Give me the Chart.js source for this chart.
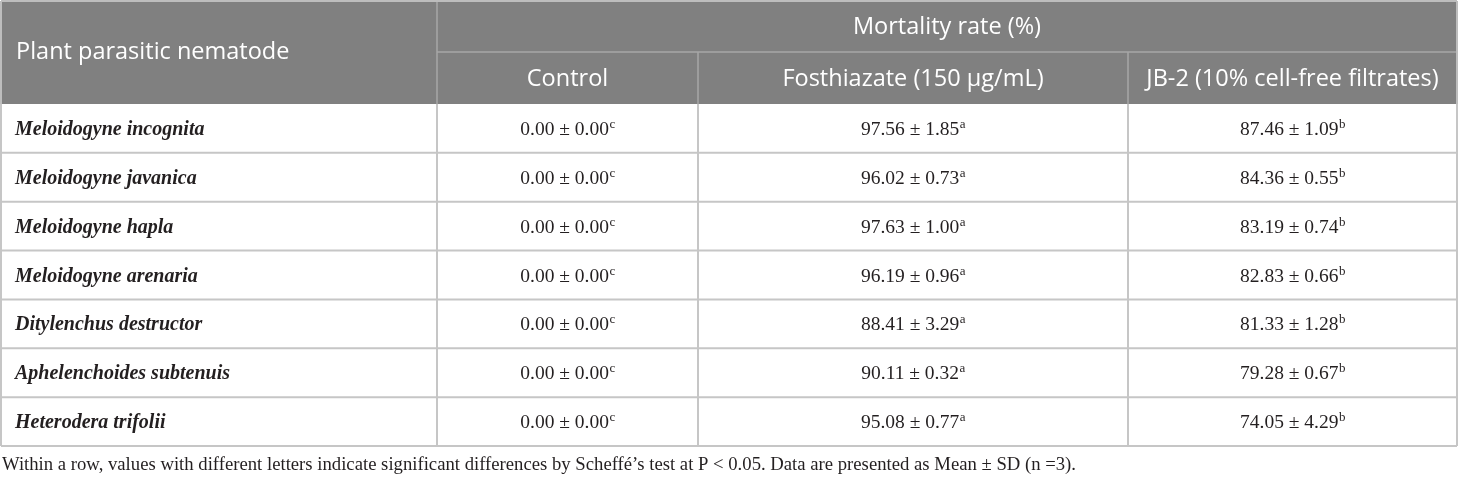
<!DOCTYPE html>
<html>
<head>
<meta charset="utf-8">
<script src="https://cdn.jsdelivr.net/npm/chart.js@4"></script>
<style>
  html, body { margin: 0; padding: 0; background: #fff; }
  #wrap { position: relative; width: 1460px; height: 477px; }
</style>
</head>
<body>
<div id="wrap"><canvas id="myChart"></canvas></div>
<script>
// table data
const nematodes = [
    'Meloidogyne incognita',
    'Meloidogyne javanica',
    'Meloidogyne hapla',
    'Meloidogyne arenaria',
    'Ditylenchus destructor',
    'Aphelenchoides subtenuis',
    'Heterodera trifolii'
];
const controlMean = [0, 0, 0, 0, 0, 0, 0];
const controlSd = [0, 0, 0, 0, 0, 0, 0];
const controlLetter = ['c', 'c', 'c', 'c', 'c', 'c', 'c'];
const fosthMean = [97.56, 96.02, 97.63, 96.19, 88.41, 90.11, 95.08];
const fosthSd = [1.85, 0.73, 1.00, 0.96, 3.29, 0.32, 0.77];
const fosthLetter = ['a', 'a', 'a', 'a', 'a', 'a', 'a'];
const jbMean = [87.46, 84.36, 83.19, 82.83, 81.33, 79.28, 74.05];
const jbSd = [1.09, 0.55, 0.74, 0.66, 1.28, 0.67, 4.29];
const jbLetter = ['b', 'b', 'b', 'b', 'b', 'b', 'b'];

const firstHeader = 'Plant parasitic nematode';
const groupHeader = 'Mortality rate (%)';
const columnHeaders = ['Control', 'Fosthiazate (150 \u03bcg/mL)', 'JB-2 (10% cell-free filtrates)'];
const footnote = 'Within a row, values with different letters indicate significant differences by Scheff\u00e9\u2019s test at P < 0.05. Data are presented as Mean \u00b1 SD (n =3).';

// layout (pixel units of the hidden scales)
var colEdges = [1, 437, 698, 1128, 1457];
var headTop = 1, headMid = 52, headBottom = 104, bodyBottom = 446;
var rowH = (bodyBottom - headBottom) / nematodes.length;
var rowCenter = function (i) { return headBottom + rowH * (i + 0.5); };
var colCenter = function (k) { return (colEdges[k] + colEdges[k + 1]) / 2; };

var headFont = '"Open Sans", sans-serif';
var bodyFont = '"Liberation Serif", "Times New Roman", serif';

function cellPoints(means, sds, letters, col) {
    return means.map(function (m, i) {
        return { x: colCenter(col), y: rowCenter(i), text: m.toFixed(2) + ' \u00b1 ' + sds[i].toFixed(2), sup: letters[i] };
    });
}

const data = {
    datasets: [
        { label: 'name', data: nematodes.map(function (n, i) { return { x: colEdges[0] + 14, y: rowCenter(i), text: n }; }) },
        { label: columnHeaders[0], data: cellPoints(controlMean, controlSd, controlLetter, 1) },
        { label: columnHeaders[1], data: cellPoints(fosthMean, fosthSd, fosthLetter, 2) },
        { label: columnHeaders[2], data: cellPoints(jbMean, jbSd, jbLetter, 3) }
    ]
};

var tablePlugin = {
    id: 'tableDraw',
    beforeDatasetsDraw: function (chart) {
        var ctx = chart.ctx, xs = chart.scales.x, ys = chart.scales.y;
        var X = function (v) { return xs.getPixelForValue(v); };
        var Y = function (v) { return ys.getPixelForValue(v); };
        ctx.save();
        // header background
        ctx.fillStyle = '#808080';
        ctx.fillRect(X(colEdges[0]), Y(headTop), X(colEdges[4]) - X(colEdges[0]), Y(headBottom) - Y(headTop));
        // header inner lines
        ctx.strokeStyle = '#a6a6a6';
        ctx.lineWidth = 1.5;
        ctx.beginPath();
        ctx.moveTo(X(colEdges[1]), Y(headMid)); ctx.lineTo(X(colEdges[4]), Y(headMid));
        ctx.moveTo(X(colEdges[1]), Y(headTop)); ctx.lineTo(X(colEdges[1]), Y(headBottom));
        ctx.moveTo(X(colEdges[2]), Y(headMid)); ctx.lineTo(X(colEdges[2]), Y(headBottom));
        ctx.moveTo(X(colEdges[3]), Y(headMid)); ctx.lineTo(X(colEdges[3]), Y(headBottom));
        ctx.stroke();
        // body grid
        ctx.strokeStyle = '#c6c6c6';
        ctx.lineWidth = 2;
        ctx.beginPath();
        for (var i = 1; i <= nematodes.length; i++) {
            var yy = Y(headBottom + rowH * i);
            ctx.moveTo(X(colEdges[0]), yy); ctx.lineTo(X(colEdges[4]), yy);
        }
        colEdges.forEach(function (e) {
            ctx.moveTo(X(e), Y(headBottom)); ctx.lineTo(X(e), Y(bodyBottom));
        });
        ctx.stroke();
        // outer header border
        ctx.strokeStyle = '#bdbdbd';
        ctx.beginPath();
        ctx.moveTo(X(colEdges[0]), Y(headTop)); ctx.lineTo(X(colEdges[4]), Y(headTop));
        ctx.moveTo(X(colEdges[0]), Y(headTop)); ctx.lineTo(X(colEdges[0]), Y(headBottom));
        ctx.moveTo(X(colEdges[4]), Y(headTop)); ctx.lineTo(X(colEdges[4]), Y(headBottom));
        ctx.stroke();
        // header text
        ctx.fillStyle = '#ffffff';
        ctx.font = '23.5px ' + headFont;
        ctx.textBaseline = 'middle';
        ctx.textAlign = 'left';
        ctx.fillText(firstHeader, X(colEdges[0] + 15), Y((headTop + headBottom) / 2));
        ctx.textAlign = 'center';
        ctx.fillText(groupHeader, X((colEdges[1] + colEdges[4]) / 2), Y((headTop + headMid) / 2 + 1));
        columnHeaders.forEach(function (h, k) {
            ctx.fillText(h, X(colCenter(k + 1)), Y((headMid + headBottom) / 2 + 1));
        });
        // footnote
        ctx.fillStyle = '#231f20';
        ctx.textAlign = 'left';
        ctx.font = '18.7px ' + bodyFont;
        ctx.fillText(footnote, X(2), Y(465));
        ctx.restore();
    },
    afterDatasetsDraw: function (chart) {
        var ctx = chart.ctx;
        ctx.save();
        ctx.fillStyle = '#231f20';
        ctx.textBaseline = 'alphabetic';
        chart.data.datasets.forEach(function (ds, d) {
            var meta = chart.getDatasetMeta(d);
            meta.data.forEach(function (pt, i) {
                var raw = ds.data[i];
                if (d === 0) {
                    ctx.font = 'italic bold 20px ' + bodyFont;
                    ctx.textAlign = 'left';
                    ctx.fillText(raw.text, pt.x, pt.y + 6.5);
                    return;
                }
                ctx.font = '19.5px ' + bodyFont;
                var w1 = ctx.measureText(raw.text).width;
                ctx.font = '13px ' + bodyFont;
                var w2 = ctx.measureText(raw.sup).width;
                var x0 = pt.x - (w1 + w2) / 2;
                ctx.textAlign = 'left';
                ctx.font = '19.5px ' + bodyFont;
                ctx.fillText(raw.text, x0, pt.y + 6.5);
                ctx.font = '13px ' + bodyFont;
                ctx.fillText(raw.sup, x0 + w1 + 0.5, pt.y - 0.5);
            });
        });
        ctx.restore();
    }
};

const config = {
    type: 'scatter',
    data: data,
    options: {
        responsive: true,
        maintainAspectRatio: false,
        animation: false,
        layout: { padding: 0 },
        elements: { point: { radius: 0, hoverRadius: 0 } },
        plugins: { legend: { display: false }, tooltip: { enabled: false } },
        events: [],
        scales: {
            x: { type: 'linear', min: 0, max: 1460, display: false },
            y: { type: 'linear', min: 0, max: 477, reverse: true, display: false }
        }
    },
    plugins: [tablePlugin]
};
var ctx = document.getElementById('myChart').getContext('2d');
var myNewChart = new Chart(ctx, config);
</script>
</body>
</html>
